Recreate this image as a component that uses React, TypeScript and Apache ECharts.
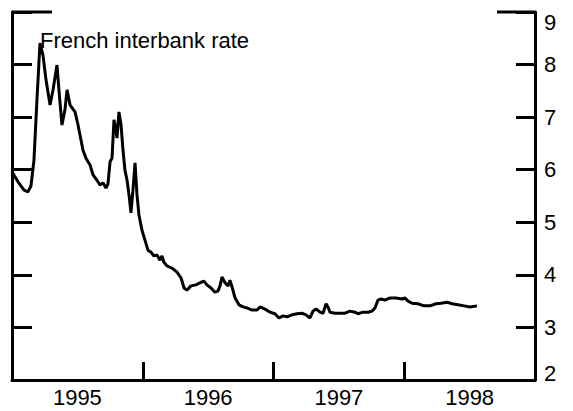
import React, { useEffect, useRef } from "react";
import * as echarts from "echarts";

const title = "French interbank rate";
const yearLabels = ["1995", "1996", "1997", "1998"];
const dates = [
  1995.000, 1995.046, 1995.092, 1995.122, 1995.145, 1995.168, 1995.191, 1995.214, 1995.237, 1995.260,
  1995.291, 1995.314, 1995.344, 1995.359, 1995.382, 1995.405, 1995.421, 1995.444, 1995.482, 1995.505,
  1995.520, 1995.543, 1995.566, 1995.597, 1995.620, 1995.650, 1995.673, 1995.696, 1995.719, 1995.734,
  1995.750, 1995.765, 1995.780, 1995.795, 1995.803, 1995.818, 1995.834, 1995.849, 1995.864, 1995.880,
  1995.895, 1995.910, 1995.925, 1995.941, 1995.956, 1995.971, 1995.994, 1996.017, 1996.040, 1996.063,
  1996.086, 1996.109, 1996.132, 1996.147, 1996.162, 1996.185, 1996.224, 1996.262, 1996.293, 1996.316,
  1996.338, 1996.369, 1996.407, 1996.438, 1996.468, 1996.491, 1996.522, 1996.552, 1996.575, 1996.591,
  1996.606, 1996.629, 1996.652, 1996.667, 1996.683, 1996.706, 1996.736, 1996.767, 1996.797, 1996.836,
  1996.874, 1996.897, 1996.935, 1996.973, 1997.011, 1997.042, 1997.073, 1997.103, 1997.141, 1997.180,
  1997.218, 1997.249, 1997.279, 1997.302, 1997.325, 1997.356, 1997.379, 1997.402, 1997.417, 1997.432,
  1997.470, 1997.509, 1997.547, 1997.585, 1997.623, 1997.646, 1997.685, 1997.723, 1997.753, 1997.776,
  1997.799, 1997.822, 1997.853, 1997.891, 1997.937, 1997.983, 1998.006, 1998.029, 1998.060, 1998.105,
  1998.151, 1998.197, 1998.243, 1998.281, 1998.327, 1998.365, 1998.411, 1998.457, 1998.503, 1998.556,
];
const rates = [
  5.96, 5.77, 5.61, 5.58, 5.69, 6.18, 7.33, 8.41, 8.18, 7.71,
  7.23, 7.52, 7.99, 7.52, 6.85, 7.14, 7.52, 7.23, 7.10, 6.85,
  6.66, 6.37, 6.22, 6.09, 5.90, 5.80, 5.71, 5.75, 5.65, 5.73,
  6.15, 6.22, 6.95, 6.76, 6.60, 7.10, 6.85, 6.37, 5.99, 5.80,
  5.52, 5.18, 5.61, 6.13, 5.52, 5.14, 4.85, 4.66, 4.47, 4.43,
  4.36, 4.38, 4.28, 4.36, 4.24, 4.17, 4.13, 4.05, 3.94, 3.75,
  3.71, 3.79, 3.81, 3.85, 3.88, 3.81, 3.75, 3.67, 3.69, 3.79,
  3.96, 3.85, 3.79, 3.90, 3.77, 3.56, 3.43, 3.39, 3.37, 3.33,
  3.33, 3.39, 3.35, 3.29, 3.26, 3.18, 3.22, 3.20, 3.24, 3.26,
  3.27, 3.24, 3.18, 3.31, 3.35, 3.29, 3.27, 3.45, 3.39, 3.29,
  3.27, 3.27, 3.27, 3.31, 3.29, 3.26, 3.29, 3.29, 3.31, 3.37,
  3.52, 3.54, 3.52, 3.56, 3.56, 3.54, 3.56, 3.50, 3.46, 3.45,
  3.41, 3.41, 3.45, 3.46, 3.48, 3.45, 3.43, 3.41, 3.39, 3.41,
];
const yTicks = [2, 3, 4, 5, 6, 7, 8, 9];

const FONT = "'Liberation Sans', Arial, Helvetica, sans-serif";
const FS = 22;

export default function App() {
  const ref = useRef<HTMLDivElement>(null);
  useEffect(() => {
    if (!ref.current) return;
    const chart = echarts.init(ref.current, null, { renderer: "svg" });
    const yMin = yTicks[0];
    const yMax = yTicks[yTicks.length - 1];
    const xMin = Number(yearLabels[0]);
    const xMax = Number(yearLabels[yearLabels.length - 1]) + 1;
    chart.setOption({
      animation: false,
      backgroundColor: "#fff",
      grid: { left: 12, right: 38, top: 12, bottom: 31 },
      xAxis: [
        {
          type: "value",
          min: xMin,
          max: xMax,
          interval: 1,
          position: "bottom",
          axisLine: { show: true, lineStyle: { color: "#000", width: 3 } },
          axisTick: { show: true, inside: true, length: 18, lineStyle: { color: "#000", width: 3 } },
          axisLabel: { show: false },
          splitLine: { show: false },
        },
        {
          type: "value",
          min: xMin,
          max: xMax,
          interval: 0.5,
          position: "bottom",
          axisLine: { show: false },
          axisTick: { show: false },
          splitLine: { show: false },
          axisLabel: {
            show: true,
            margin: 6,
            color: "#000",
            fontSize: FS,
            fontFamily: FONT,
            formatter: (v: number) => (Math.abs((v % 1) - 0.5) < 1e-6 ? String(Math.floor(v)) : ""),
          },
        },
      ],
      yAxis: [
        {
          type: "value",
          min: yMin,
          max: yMax,
          interval: 1,
          position: "left",
          axisLine: { show: true, lineStyle: { color: "#000", width: 3 } },
          axisTick: { show: true, inside: true, length: 20, lineStyle: { color: "#000", width: 3 } },
          axisLabel: { show: false },
          splitLine: { show: false },
        },
        {
          type: "value",
          min: yMin,
          max: yMax,
          interval: 1,
          position: "right",
          axisLine: { show: true, lineStyle: { color: "#000", width: 3 } },
          axisTick: { show: true, inside: true, length: 19, lineStyle: { color: "#000", width: 3 } },
          splitLine: { show: false },
          axisLabel: {
            show: true,
            margin: 9,
            color: "#000",
            fontSize: FS,
            fontFamily: FONT,
            formatter: (v: number) =>
              v === yMax ? `{top|${v}}` : v === yMin ? `{bot|${v}}` : String(v),
            rich: {
              top: { fontSize: FS, fontFamily: FONT, color: "#000", padding: [20, 0, 0, 0] },
              bot: { fontSize: FS, fontFamily: FONT, color: "#000", padding: [0, 0, 14, 0] },
            },
          },
        },
      ],
      series: [
        {
          type: "line",
          xAxisIndex: 0,
          yAxisIndex: 0,
          showSymbol: false,
          symbol: "none",
          lineStyle: { color: "#000", width: 3 },
          data: dates.map((d, i) => [d, rates[i]]),
        },
      ],
    });
    const pL = chart.convertToPixel({ gridIndex: 0 }, [xMin, yMax]) as number[];
    const pR = chart.convertToPixel({ gridIndex: 0 }, [xMax, yMax]) as number[];
    chart.setOption({
      graphic: [
        {
          type: "line",
          shape: { x1: pL[0], y1: pL[1], x2: pL[0] + 40, y2: pL[1] },
          style: { stroke: "#000", lineWidth: 3 },
        },
        {
          type: "line",
          shape: { x1: pR[0] - 38, y1: pR[1], x2: pR[0], y2: pR[1] },
          style: { stroke: "#000", lineWidth: 3 },
        },
        {
          type: "text",
          left: 40,
          top: 29,
          style: { text: title, fontSize: FS, fontFamily: FONT, fill: "#000" },
        },
      ],
    });
    return () => chart.dispose();
  }, []);
  return <div ref={ref} style={{ width: 573, height: 411, position: "absolute", left: 0, top: 0 }} />;
}
